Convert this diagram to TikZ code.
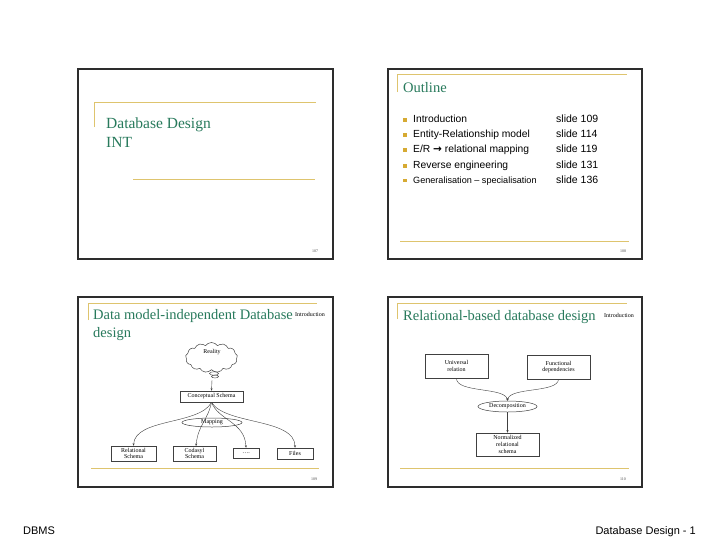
\documentclass[tikz,border=0pt]{standalone}
\usepackage{fontspec}
\setmainfont{Liberation Serif}
\newfontfamily\arial{Liberation Sans}
\newfontfamily\dejavu{DejaVu Sans}
\usetikzlibrary{shapes.geometric,shapes.symbols,arrows.meta}
\definecolor{gold}{RGB}{222,196,110}
\definecolor{bulletgold}{RGB}{214,170,50}
\definecolor{titlegreen}{RGB}{40,122,92}
\definecolor{framegray}{RGB}{45,45,45}
\tikzset{
  frame/.style={draw=framegray,line width=1.1pt},
  goldline/.style={draw=gold,line width=0.9pt},
  title/.style={anchor=base west,inner sep=0pt,text=titlegreen,font=\fontsize{14.5}{16}\selectfont},
  item/.style={anchor=base west,inner sep=0pt,font=\arial\fontsize{10.3}{12}\selectfont},
  slideref/.style={anchor=base west,inner sep=0pt,font=\arial\fontsize{10.5}{12}\selectfont},
  bul/.style={fill=bulletgold,minimum size=4pt,inner sep=0pt,draw=none},
  pagenum/.style={inner sep=0pt,font=\fontsize{4}{5}\selectfont,text=black!70},
  intro/.style={anchor=base west,inner sep=0pt,font=\fontsize{6}{7}\selectfont},
  box/.style={draw=black!75,line width=0.5pt,inner sep=0pt,align=center,font=\fontsize{6}{6.8}\selectfont},
  ell/.style={ellipse,draw=black!75,line width=0.5pt,inner sep=0pt,font=\fontsize{6}{7}\selectfont},
  conn/.style={draw=black!75,line width=0.4pt,-{Stealth[length=2.5pt,width=2pt]}},
  footer/.style={anchor=base west,inner sep=0pt,font=\arial\fontsize{11}{13}\selectfont},
}
\begin{document}
\begin{tikzpicture}[x=1pt,y=-1pt]
\useasboundingbox (0,0) rectangle (720,557);
\fill[white] (0,0) rectangle (720,557);

% ---------- Slide 1 ----------
\draw[frame] (78,69) rectangle (333,259);
\draw[goldline] (94,127) -- (94,102) -- (316,102);
\draw[goldline] (133,179) -- (315,179);
\node[title,font=\fontsize{15.5}{17}\selectfont] (t1a) at (106,128) {Database Design};
\node[title,font=\fontsize{15.5}{17}\selectfont] (t1b) at (106,147) {INT};
\node[pagenum] (p1) at (315,251) {107};

% ---------- Slide 2 ----------
\draw[frame] (388,69) rectangle (642,259);
\draw[goldline] (397,92) -- (397,74) -- (627,74);
\draw[goldline] (400,241) -- (629,241);
\node[title] (t2) at (403,92) {Outline};
\node[bul] (b1) at (405,119.5) {};
\node[bul] (b2) at (405,134.5) {};
\node[bul] (b3) at (405,150) {};
\node[bul] (b4) at (405,165.5) {};
\node[bul,minimum size=3.5pt] (b5) at (405,180.5) {};
\node[item] (i1) at (413,122) {Introduction};
\node[item] (i2) at (413,137) {Entity-Relationship model};
\node[item] (i3) at (413,152.5) {E/R {\dejavu\bfseries\fontsize{10.5}{11}\selectfont →} relational mapping};
\node[item] (i4) at (413,168) {Reverse engineering};
\node[item,font=\arial\fontsize{9.1}{11}\selectfont] (i5) at (413,183) {Generalisation – specialisation};
\node[slideref] (s1) at (556,122) {slide 109};
\node[slideref] (s2) at (556,137) {slide 114};
\node[slideref] (s3) at (556,152.5) {slide 119};
\node[slideref] (s4) at (556,168) {slide 131};
\node[slideref] (s5) at (556,183) {slide 136};
\node[pagenum] (p2) at (623,251) {108};

% ---------- Slide 3 ----------
\draw[frame] (78,297) rectangle (333,487);
\draw[goldline] (88,320) -- (88,303) -- (317,303);
\draw[goldline] (91,468) -- (319,468);
\node[title] (t3a) at (93,319.5) {Data model-independent Database};
\node[title] (t3b) at (93,337) {design};
\node[intro] (in3) at (295,316.5) {Introduction};
\node[cloud,cloud puffs=13,cloud puff arc=110,aspect=1.8,draw=black!75,line width=0.5pt,
      minimum width=52pt,minimum height=30pt,inner sep=0pt] (cloud) at (211.5,357.5) {};
\node[inner sep=0pt,font=\fontsize{6}{7}\selectfont] (real) at (212,352) {Reality};
\node[ellipse,draw=black!75,line width=0.4pt,minimum width=9pt,minimum height=3.5pt,inner sep=0pt] (pb1) at (214,373.5) {};
\node[ellipse,draw=black!75,line width=0.4pt,minimum width=7pt,minimum height=3pt,inner sep=0pt] (pb2) at (215,376.5) {};
\coordinate (cs) at (212,380);
\node[box,minimum width=63pt,minimum height=11pt] (concept) at (211.5,396.5) {Conceptual Schema};
\draw[conn] (cs) -- (concept.north);
\node[ell,minimum width=60pt,minimum height=9pt] (mapping) at (212,422.5) {Mapping};
\node[box,minimum width=45pt,minimum height=15pt] (rel) at (133.5,453.5) {Relational\\Schema};
\node[box,minimum width=43pt,minimum height=15pt] (coda) at (194.5,453.5) {Codasyl\\Schema};
\node[box,minimum width=26pt,minimum height=10pt] (dots) at (246,453) {\dots.};
\node[box,minimum width=36pt,minimum height=11pt] (files) at (295,453.5) {Files};
\draw[conn] (concept.south) .. controls (200,425) and (135,418) .. (rel.north);
\draw[conn] (concept.south) .. controls (208,420) and (198,425) .. (196,446);
\draw[conn] (concept.south) .. controls (218,420) and (245,422) .. (dots.north);
\draw[conn] (concept.south) .. controls (225,425) and (295,418) .. (files.north);
\node[pagenum] (p3) at (314,479) {109};

% ---------- Slide 4 ----------
\draw[frame] (388,297) rectangle (642,487);
\draw[goldline] (397,319) -- (397,303) -- (627,303);
\draw[goldline] (400,468) -- (629,468);
\node[title] (t4) at (403,320.5) {Relational-based database design};
\node[intro] (in4) at (604,317) {Introduction};
\node[box,minimum width=63pt,minimum height=24pt] (univ) at (456.5,366) {Universal\\relation};
\node[box,minimum width=63pt,minimum height=24pt] (func) at (558.5,367) {Functional\\dependencies};
\node[ell,minimum width=59pt,minimum height=11pt] (decomp) at (507.5,406.5) {Decomposition};
\node[box,minimum width=63pt,minimum height=23pt] (norm) at (507.5,444.5) {Normalized\\relational\\schema};
\draw[conn] (univ.south) .. controls (456,393) and (505,387) .. (decomp.north);
\draw[conn] (func.south) .. controls (558,393) and (510,387) .. (decomp.north);
\draw[conn] (decomp.south) -- (norm.north);
\node[pagenum] (p4) at (623,479) {110};

% ---------- Footer ----------
\node[footer] (f1) at (23,534) {DBMS};
\node[footer,anchor=base east] (f2) at (696,534) {Database Design - 1};
\end{tikzpicture}
\end{document}
